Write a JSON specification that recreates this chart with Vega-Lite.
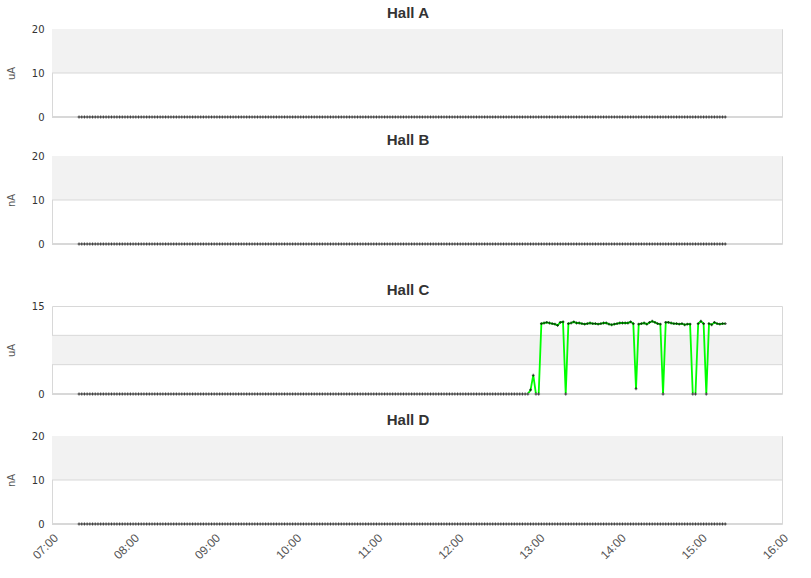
{
"$schema": "https://vega.github.io/schema/vega-lite/v6.json",
"padding": 5,
"datasets": {
"s": [
{"t":"2020-01-01T07:20","a":0,"b":0,"c":0,"d":0},{"t":"2020-01-01T07:22","a":0,"b":0,"c":0,"d":0},{"t":"2020-01-01T07:24","a":0,"b":0,"c":0,"d":0},{"t":"2020-01-01T07:26","a":0,"b":0,"c":0,"d":0},{"t":"2020-01-01T07:28","a":0,"b":0,"c":0,"d":0},{"t":"2020-01-01T07:30","a":0,"b":0,"c":0,"d":0},{"t":"2020-01-01T07:32","a":0,"b":0,"c":0,"d":0},{"t":"2020-01-01T07:34","a":0,"b":0,"c":0,"d":0},{"t":"2020-01-01T07:36","a":0,"b":0,"c":0,"d":0},{"t":"2020-01-01T07:38","a":0,"b":0,"c":0,"d":0},
{"t":"2020-01-01T07:40","a":0,"b":0,"c":0,"d":0},{"t":"2020-01-01T07:42","a":0,"b":0,"c":0,"d":0},{"t":"2020-01-01T07:44","a":0,"b":0,"c":0,"d":0},{"t":"2020-01-01T07:46","a":0,"b":0,"c":0,"d":0},{"t":"2020-01-01T07:48","a":0,"b":0,"c":0,"d":0},{"t":"2020-01-01T07:50","a":0,"b":0,"c":0,"d":0},{"t":"2020-01-01T07:52","a":0,"b":0,"c":0,"d":0},{"t":"2020-01-01T07:54","a":0,"b":0,"c":0,"d":0},{"t":"2020-01-01T07:56","a":0,"b":0,"c":0,"d":0},{"t":"2020-01-01T07:58","a":0,"b":0,"c":0,"d":0},
{"t":"2020-01-01T08:00","a":0,"b":0,"c":0,"d":0},{"t":"2020-01-01T08:02","a":0,"b":0,"c":0,"d":0},{"t":"2020-01-01T08:04","a":0,"b":0,"c":0,"d":0},{"t":"2020-01-01T08:06","a":0,"b":0,"c":0,"d":0},{"t":"2020-01-01T08:08","a":0,"b":0,"c":0,"d":0},{"t":"2020-01-01T08:10","a":0,"b":0,"c":0,"d":0},{"t":"2020-01-01T08:12","a":0,"b":0,"c":0,"d":0},{"t":"2020-01-01T08:14","a":0,"b":0,"c":0,"d":0},{"t":"2020-01-01T08:16","a":0,"b":0,"c":0,"d":0},{"t":"2020-01-01T08:18","a":0,"b":0,"c":0,"d":0},
{"t":"2020-01-01T08:20","a":0,"b":0,"c":0,"d":0},{"t":"2020-01-01T08:22","a":0,"b":0,"c":0,"d":0},{"t":"2020-01-01T08:24","a":0,"b":0,"c":0,"d":0},{"t":"2020-01-01T08:26","a":0,"b":0,"c":0,"d":0},{"t":"2020-01-01T08:28","a":0,"b":0,"c":0,"d":0},{"t":"2020-01-01T08:30","a":0,"b":0,"c":0,"d":0},{"t":"2020-01-01T08:32","a":0,"b":0,"c":0,"d":0},{"t":"2020-01-01T08:34","a":0,"b":0,"c":0,"d":0},{"t":"2020-01-01T08:36","a":0,"b":0,"c":0,"d":0},{"t":"2020-01-01T08:38","a":0,"b":0,"c":0,"d":0},
{"t":"2020-01-01T08:40","a":0,"b":0,"c":0,"d":0},{"t":"2020-01-01T08:42","a":0,"b":0,"c":0,"d":0},{"t":"2020-01-01T08:44","a":0,"b":0,"c":0,"d":0},{"t":"2020-01-01T08:46","a":0,"b":0,"c":0,"d":0},{"t":"2020-01-01T08:48","a":0,"b":0,"c":0,"d":0},{"t":"2020-01-01T08:50","a":0,"b":0,"c":0,"d":0},{"t":"2020-01-01T08:52","a":0,"b":0,"c":0,"d":0},{"t":"2020-01-01T08:54","a":0,"b":0,"c":0,"d":0},{"t":"2020-01-01T08:56","a":0,"b":0,"c":0,"d":0},{"t":"2020-01-01T08:58","a":0,"b":0,"c":0,"d":0},
{"t":"2020-01-01T09:00","a":0,"b":0,"c":0,"d":0},{"t":"2020-01-01T09:02","a":0,"b":0,"c":0,"d":0},{"t":"2020-01-01T09:04","a":0,"b":0,"c":0,"d":0},{"t":"2020-01-01T09:06","a":0,"b":0,"c":0,"d":0},{"t":"2020-01-01T09:08","a":0,"b":0,"c":0,"d":0},{"t":"2020-01-01T09:10","a":0,"b":0,"c":0,"d":0},{"t":"2020-01-01T09:12","a":0,"b":0,"c":0,"d":0},{"t":"2020-01-01T09:14","a":0,"b":0,"c":0,"d":0},{"t":"2020-01-01T09:16","a":0,"b":0,"c":0,"d":0},{"t":"2020-01-01T09:18","a":0,"b":0,"c":0,"d":0},
{"t":"2020-01-01T09:20","a":0,"b":0,"c":0,"d":0},{"t":"2020-01-01T09:22","a":0,"b":0,"c":0,"d":0},{"t":"2020-01-01T09:24","a":0,"b":0,"c":0,"d":0},{"t":"2020-01-01T09:26","a":0,"b":0,"c":0,"d":0},{"t":"2020-01-01T09:28","a":0,"b":0,"c":0,"d":0},{"t":"2020-01-01T09:30","a":0,"b":0,"c":0,"d":0},{"t":"2020-01-01T09:32","a":0,"b":0,"c":0,"d":0},{"t":"2020-01-01T09:34","a":0,"b":0,"c":0,"d":0},{"t":"2020-01-01T09:36","a":0,"b":0,"c":0,"d":0},{"t":"2020-01-01T09:38","a":0,"b":0,"c":0,"d":0},
{"t":"2020-01-01T09:40","a":0,"b":0,"c":0,"d":0},{"t":"2020-01-01T09:42","a":0,"b":0,"c":0,"d":0},{"t":"2020-01-01T09:44","a":0,"b":0,"c":0,"d":0},{"t":"2020-01-01T09:46","a":0,"b":0,"c":0,"d":0},{"t":"2020-01-01T09:48","a":0,"b":0,"c":0,"d":0},{"t":"2020-01-01T09:50","a":0,"b":0,"c":0,"d":0},{"t":"2020-01-01T09:52","a":0,"b":0,"c":0,"d":0},{"t":"2020-01-01T09:54","a":0,"b":0,"c":0,"d":0},{"t":"2020-01-01T09:56","a":0,"b":0,"c":0,"d":0},{"t":"2020-01-01T09:58","a":0,"b":0,"c":0,"d":0},
{"t":"2020-01-01T10:00","a":0,"b":0,"c":0,"d":0},{"t":"2020-01-01T10:02","a":0,"b":0,"c":0,"d":0},{"t":"2020-01-01T10:04","a":0,"b":0,"c":0,"d":0},{"t":"2020-01-01T10:06","a":0,"b":0,"c":0,"d":0},{"t":"2020-01-01T10:08","a":0,"b":0,"c":0,"d":0},{"t":"2020-01-01T10:10","a":0,"b":0,"c":0,"d":0},{"t":"2020-01-01T10:12","a":0,"b":0,"c":0,"d":0},{"t":"2020-01-01T10:14","a":0,"b":0,"c":0,"d":0},{"t":"2020-01-01T10:16","a":0,"b":0,"c":0,"d":0},{"t":"2020-01-01T10:18","a":0,"b":0,"c":0,"d":0},
{"t":"2020-01-01T10:20","a":0,"b":0,"c":0,"d":0},{"t":"2020-01-01T10:22","a":0,"b":0,"c":0,"d":0},{"t":"2020-01-01T10:24","a":0,"b":0,"c":0,"d":0},{"t":"2020-01-01T10:26","a":0,"b":0,"c":0,"d":0},{"t":"2020-01-01T10:28","a":0,"b":0,"c":0,"d":0},{"t":"2020-01-01T10:30","a":0,"b":0,"c":0,"d":0},{"t":"2020-01-01T10:32","a":0,"b":0,"c":0,"d":0},{"t":"2020-01-01T10:34","a":0,"b":0,"c":0,"d":0},{"t":"2020-01-01T10:36","a":0,"b":0,"c":0,"d":0},{"t":"2020-01-01T10:38","a":0,"b":0,"c":0,"d":0},
{"t":"2020-01-01T10:40","a":0,"b":0,"c":0,"d":0},{"t":"2020-01-01T10:42","a":0,"b":0,"c":0,"d":0},{"t":"2020-01-01T10:44","a":0,"b":0,"c":0,"d":0},{"t":"2020-01-01T10:46","a":0,"b":0,"c":0,"d":0},{"t":"2020-01-01T10:48","a":0,"b":0,"c":0,"d":0},{"t":"2020-01-01T10:50","a":0,"b":0,"c":0,"d":0},{"t":"2020-01-01T10:52","a":0,"b":0,"c":0,"d":0},{"t":"2020-01-01T10:54","a":0,"b":0,"c":0,"d":0},{"t":"2020-01-01T10:56","a":0,"b":0,"c":0,"d":0},{"t":"2020-01-01T10:58","a":0,"b":0,"c":0,"d":0},
{"t":"2020-01-01T11:00","a":0,"b":0,"c":0,"d":0},{"t":"2020-01-01T11:02","a":0,"b":0,"c":0,"d":0},{"t":"2020-01-01T11:04","a":0,"b":0,"c":0,"d":0},{"t":"2020-01-01T11:06","a":0,"b":0,"c":0,"d":0},{"t":"2020-01-01T11:08","a":0,"b":0,"c":0,"d":0},{"t":"2020-01-01T11:10","a":0,"b":0,"c":0,"d":0},{"t":"2020-01-01T11:12","a":0,"b":0,"c":0,"d":0},{"t":"2020-01-01T11:14","a":0,"b":0,"c":0,"d":0},{"t":"2020-01-01T11:16","a":0,"b":0,"c":0,"d":0},{"t":"2020-01-01T11:18","a":0,"b":0,"c":0,"d":0},
{"t":"2020-01-01T11:20","a":0,"b":0,"c":0,"d":0},{"t":"2020-01-01T11:22","a":0,"b":0,"c":0,"d":0},{"t":"2020-01-01T11:24","a":0,"b":0,"c":0,"d":0},{"t":"2020-01-01T11:26","a":0,"b":0,"c":0,"d":0},{"t":"2020-01-01T11:28","a":0,"b":0,"c":0,"d":0},{"t":"2020-01-01T11:30","a":0,"b":0,"c":0,"d":0},{"t":"2020-01-01T11:32","a":0,"b":0,"c":0,"d":0},{"t":"2020-01-01T11:34","a":0,"b":0,"c":0,"d":0},{"t":"2020-01-01T11:36","a":0,"b":0,"c":0,"d":0},{"t":"2020-01-01T11:38","a":0,"b":0,"c":0,"d":0},
{"t":"2020-01-01T11:40","a":0,"b":0,"c":0,"d":0},{"t":"2020-01-01T11:42","a":0,"b":0,"c":0,"d":0},{"t":"2020-01-01T11:44","a":0,"b":0,"c":0,"d":0},{"t":"2020-01-01T11:46","a":0,"b":0,"c":0,"d":0},{"t":"2020-01-01T11:48","a":0,"b":0,"c":0,"d":0},{"t":"2020-01-01T11:50","a":0,"b":0,"c":0,"d":0},{"t":"2020-01-01T11:52","a":0,"b":0,"c":0,"d":0},{"t":"2020-01-01T11:54","a":0,"b":0,"c":0,"d":0},{"t":"2020-01-01T11:56","a":0,"b":0,"c":0,"d":0},{"t":"2020-01-01T11:58","a":0,"b":0,"c":0,"d":0},
{"t":"2020-01-01T12:00","a":0,"b":0,"c":0,"d":0},{"t":"2020-01-01T12:02","a":0,"b":0,"c":0,"d":0},{"t":"2020-01-01T12:04","a":0,"b":0,"c":0,"d":0},{"t":"2020-01-01T12:06","a":0,"b":0,"c":0,"d":0},{"t":"2020-01-01T12:08","a":0,"b":0,"c":0,"d":0},{"t":"2020-01-01T12:10","a":0,"b":0,"c":0,"d":0},{"t":"2020-01-01T12:12","a":0,"b":0,"c":0,"d":0},{"t":"2020-01-01T12:14","a":0,"b":0,"c":0,"d":0},{"t":"2020-01-01T12:16","a":0,"b":0,"c":0,"d":0},{"t":"2020-01-01T12:18","a":0,"b":0,"c":0,"d":0},
{"t":"2020-01-01T12:20","a":0,"b":0,"c":0,"d":0},{"t":"2020-01-01T12:22","a":0,"b":0,"c":0,"d":0},{"t":"2020-01-01T12:24","a":0,"b":0,"c":0,"d":0},{"t":"2020-01-01T12:26","a":0,"b":0,"c":0,"d":0},{"t":"2020-01-01T12:28","a":0,"b":0,"c":0,"d":0},{"t":"2020-01-01T12:30","a":0,"b":0,"c":0,"d":0},{"t":"2020-01-01T12:32","a":0,"b":0,"c":0,"d":0},{"t":"2020-01-01T12:34","a":0,"b":0,"c":0,"d":0},{"t":"2020-01-01T12:36","a":0,"b":0,"c":0,"d":0},{"t":"2020-01-01T12:38","a":0,"b":0,"c":0,"d":0},
{"t":"2020-01-01T12:40","a":0,"b":0,"c":0,"d":0},{"t":"2020-01-01T12:42","a":0,"b":0,"c":0,"d":0},{"t":"2020-01-01T12:44","a":0,"b":0,"c":0,"d":0},{"t":"2020-01-01T12:46","a":0,"b":0,"c":0,"d":0},{"t":"2020-01-01T12:48","a":0,"b":0,"c":0,"d":0},{"t":"2020-01-01T12:50","a":0,"b":0,"c":0,"d":0},{"t":"2020-01-01T12:52","a":0,"b":0,"c":0,"d":0},{"t":"2020-01-01T12:54","a":0,"b":0,"c":0.7,"d":0},{"t":"2020-01-01T12:56","a":0,"b":0,"c":3.2,"d":0},{"t":"2020-01-01T12:58","a":0,"b":0,"c":0,"d":0},
{"t":"2020-01-01T13:00","a":0,"b":0,"c":0,"d":0},{"t":"2020-01-01T13:02","a":0,"b":0,"c":12.0,"d":0},{"t":"2020-01-01T13:04","a":0,"b":0,"c":12.1,"d":0},{"t":"2020-01-01T13:06","a":0,"b":0,"c":12.2,"d":0},{"t":"2020-01-01T13:08","a":0,"b":0,"c":12.1,"d":0},{"t":"2020-01-01T13:10","a":0,"b":0,"c":12.0,"d":0},{"t":"2020-01-01T13:12","a":0,"b":0,"c":11.9,"d":0},{"t":"2020-01-01T13:14","a":0,"b":0,"c":11.7,"d":0},{"t":"2020-01-01T13:16","a":0,"b":0,"c":12.2,"d":0},{"t":"2020-01-01T13:18","a":0,"b":0,"c":12.3,"d":0},
{"t":"2020-01-01T13:20","a":0,"b":0,"c":0,"d":0},{"t":"2020-01-01T13:22","a":0,"b":0,"c":12.0,"d":0},{"t":"2020-01-01T13:24","a":0,"b":0,"c":12.1,"d":0},{"t":"2020-01-01T13:26","a":0,"b":0,"c":12.3,"d":0},{"t":"2020-01-01T13:28","a":0,"b":0,"c":12.1,"d":0},{"t":"2020-01-01T13:30","a":0,"b":0,"c":12.1,"d":0},{"t":"2020-01-01T13:32","a":0,"b":0,"c":12.0,"d":0},{"t":"2020-01-01T13:34","a":0,"b":0,"c":11.9,"d":0},{"t":"2020-01-01T13:36","a":0,"b":0,"c":12.0,"d":0},{"t":"2020-01-01T13:38","a":0,"b":0,"c":12.1,"d":0},
{"t":"2020-01-01T13:40","a":0,"b":0,"c":12.0,"d":0},{"t":"2020-01-01T13:42","a":0,"b":0,"c":12.0,"d":0},{"t":"2020-01-01T13:44","a":0,"b":0,"c":11.9,"d":0},{"t":"2020-01-01T13:46","a":0,"b":0,"c":12.0,"d":0},{"t":"2020-01-01T13:48","a":0,"b":0,"c":12.1,"d":0},{"t":"2020-01-01T13:50","a":0,"b":0,"c":12.1,"d":0},{"t":"2020-01-01T13:52","a":0,"b":0,"c":11.9,"d":0},{"t":"2020-01-01T13:54","a":0,"b":0,"c":11.8,"d":0},{"t":"2020-01-01T13:56","a":0,"b":0,"c":11.9,"d":0},{"t":"2020-01-01T13:58","a":0,"b":0,"c":12.0,"d":0},
{"t":"2020-01-01T14:00","a":0,"b":0,"c":12.1,"d":0},{"t":"2020-01-01T14:02","a":0,"b":0,"c":12.1,"d":0},{"t":"2020-01-01T14:04","a":0,"b":0,"c":12.1,"d":0},{"t":"2020-01-01T14:06","a":0,"b":0,"c":12.1,"d":0},{"t":"2020-01-01T14:08","a":0,"b":0,"c":12.3,"d":0},{"t":"2020-01-01T14:10","a":0,"b":0,"c":12.0,"d":0},{"t":"2020-01-01T14:12","a":0,"b":0,"c":0.9,"d":0},{"t":"2020-01-01T14:14","a":0,"b":0,"c":11.9,"d":0},{"t":"2020-01-01T14:16","a":0,"b":0,"c":12.0,"d":0},{"t":"2020-01-01T14:18","a":0,"b":0,"c":12.1,"d":0},
{"t":"2020-01-01T14:20","a":0,"b":0,"c":11.9,"d":0},{"t":"2020-01-01T14:22","a":0,"b":0,"c":12.2,"d":0},{"t":"2020-01-01T14:24","a":0,"b":0,"c":12.4,"d":0},{"t":"2020-01-01T14:26","a":0,"b":0,"c":12.2,"d":0},{"t":"2020-01-01T14:28","a":0,"b":0,"c":12.0,"d":0},{"t":"2020-01-01T14:30","a":0,"b":0,"c":11.9,"d":0},{"t":"2020-01-01T14:32","a":0,"b":0,"c":0,"d":0},{"t":"2020-01-01T14:34","a":0,"b":0,"c":12.2,"d":0},{"t":"2020-01-01T14:36","a":0,"b":0,"c":12.2,"d":0},{"t":"2020-01-01T14:38","a":0,"b":0,"c":12.1,"d":0},
{"t":"2020-01-01T14:40","a":0,"b":0,"c":12.0,"d":0},{"t":"2020-01-01T14:42","a":0,"b":0,"c":12.0,"d":0},{"t":"2020-01-01T14:44","a":0,"b":0,"c":11.9,"d":0},{"t":"2020-01-01T14:46","a":0,"b":0,"c":12.0,"d":0},{"t":"2020-01-01T14:48","a":0,"b":0,"c":11.8,"d":0},{"t":"2020-01-01T14:50","a":0,"b":0,"c":11.9,"d":0},{"t":"2020-01-01T14:52","a":0,"b":0,"c":11.9,"d":0},{"t":"2020-01-01T14:54","a":0,"b":0,"c":0,"d":0},{"t":"2020-01-01T14:56","a":0,"b":0,"c":0,"d":0},{"t":"2020-01-01T14:58","a":0,"b":0,"c":12.0,"d":0},
{"t":"2020-01-01T15:00","a":0,"b":0,"c":12.4,"d":0},{"t":"2020-01-01T15:02","a":0,"b":0,"c":12.0,"d":0},{"t":"2020-01-01T15:04","a":0,"b":0,"c":0,"d":0},{"t":"2020-01-01T15:06","a":0,"b":0,"c":12.0,"d":0},{"t":"2020-01-01T15:08","a":0,"b":0,"c":11.8,"d":0},{"t":"2020-01-01T15:10","a":0,"b":0,"c":12.2,"d":0},{"t":"2020-01-01T15:12","a":0,"b":0,"c":12.0,"d":0},{"t":"2020-01-01T15:14","a":0,"b":0,"c":11.9,"d":0},{"t":"2020-01-01T15:16","a":0,"b":0,"c":12.0,"d":0},{"t":"2020-01-01T15:18","a":0,"b":0,"c":12.0,"d":0}
],
"band20": [{"lo": 10, "hi": 20}],
"band15": [{"lo": 5, "hi": 10}],
"grid20": [{"g": 10}],
"grid15": [{"g": 5}, {"g": 10}],
"zero": [{"z": 0}]
},
"spacing": 32,
"vconcat": [
 {"spacing": 9, "vconcat": [
  {"title": "Hall A", "width": 730, "height": 88, "layer": [
   {"data": {"name": "band20"}, "mark": {"type": "rect", "color": "#f2f2f2"}, "encoding": {"y": {"field": "lo", "type": "quantitative", "scale": {"domain": [0, 20], "nice": false}, "axis": {"values": [0, 10, 20], "title": "uA", "grid": false, "labelOverlap": false}}, "y2": {"field": "hi"}}},
   {"data": {"name": "grid20"}, "mark": {"type": "rule", "color": "#d8d8d8", "strokeWidth": 1}, "encoding": {"y": {"field": "g", "type": "quantitative"}}},
   {"data": {"name": "s"}, "mark": {"type": "line", "color": "#00ff00", "strokeWidth": 1.8}, "encoding": {
     "x": {"field": "t", "type": "temporal", "scale": {"domain": [{"year": 2020, "month": 1, "date": 1, "hours": 7}, {"year": 2020, "month": 1, "date": 1, "hours": 16}]}, "axis": null},
     "y": {"field": "a", "type": "quantitative"}}},
   {"data": {"name": "zero"}, "mark": {"type": "rule", "color": "#d8d8d8", "strokeWidth": 2}, "encoding": {"y": {"field": "z", "type": "quantitative"}}},
   {"data": {"name": "s"}, "mark": {"type": "point", "shape": "cross", "filled": true, "color": "black", "size": 8}, "encoding": {
     "x": {"field": "t", "type": "temporal"}, "y": {"field": "a", "type": "quantitative"}}}
  ]},
  {"title": "Hall B", "width": 730, "height": 88, "layer": [
   {"data": {"name": "band20"}, "mark": {"type": "rect", "color": "#f2f2f2"}, "encoding": {"y": {"field": "lo", "type": "quantitative", "scale": {"domain": [0, 20], "nice": false}, "axis": {"values": [0, 10, 20], "title": "nA", "grid": false, "labelOverlap": false}}, "y2": {"field": "hi"}}},
   {"data": {"name": "grid20"}, "mark": {"type": "rule", "color": "#d8d8d8", "strokeWidth": 1}, "encoding": {"y": {"field": "g", "type": "quantitative"}}},
   {"data": {"name": "s"}, "mark": {"type": "line", "color": "#00ff00", "strokeWidth": 1.8}, "encoding": {
     "x": {"field": "t", "type": "temporal", "scale": {"domain": [{"year": 2020, "month": 1, "date": 1, "hours": 7}, {"year": 2020, "month": 1, "date": 1, "hours": 16}]}, "axis": null},
     "y": {"field": "b", "type": "quantitative"}}},
   {"data": {"name": "zero"}, "mark": {"type": "rule", "color": "#d8d8d8", "strokeWidth": 2}, "encoding": {"y": {"field": "z", "type": "quantitative"}}},
   {"data": {"name": "s"}, "mark": {"type": "point", "shape": "cross", "filled": true, "color": "black", "size": 8}, "encoding": {
     "x": {"field": "t", "type": "temporal"}, "y": {"field": "b", "type": "quantitative"}}}
  ]}
 ]},
 {"spacing": 12, "vconcat": [
  {"title": "Hall C", "width": 730, "height": 88, "layer": [
   {"data": {"name": "band15"}, "mark": {"type": "rect", "color": "#f2f2f2"}, "encoding": {"y": {"field": "lo", "type": "quantitative", "scale": {"domain": [0, 15], "nice": false}, "axis": {"values": [0, 5, 10, 15], "title": "uA", "grid": false, "labelOverlap": false}}, "y2": {"field": "hi"}}},
   {"data": {"name": "grid15"}, "mark": {"type": "rule", "color": "#d8d8d8", "strokeWidth": 1}, "encoding": {"y": {"field": "g", "type": "quantitative"}}},
   {"data": {"name": "s"}, "mark": {"type": "line", "color": "#00ff00", "strokeWidth": 1.8}, "encoding": {
     "x": {"field": "t", "type": "temporal", "scale": {"domain": [{"year": 2020, "month": 1, "date": 1, "hours": 7}, {"year": 2020, "month": 1, "date": 1, "hours": 16}]}, "axis": null},
     "y": {"field": "c", "type": "quantitative"}}},
   {"data": {"name": "zero"}, "mark": {"type": "rule", "color": "#d8d8d8", "strokeWidth": 2}, "encoding": {"y": {"field": "z", "type": "quantitative"}}},
   {"data": {"name": "s"}, "mark": {"type": "point", "shape": "cross", "filled": true, "color": "black", "size": 8}, "encoding": {
     "x": {"field": "t", "type": "temporal"}, "y": {"field": "c", "type": "quantitative"}}}
  ]},
  {"title": "Hall D", "width": 730, "height": 88, "layer": [
   {"data": {"name": "band20"}, "mark": {"type": "rect", "color": "#f2f2f2"}, "encoding": {"y": {"field": "lo", "type": "quantitative", "scale": {"domain": [0, 20], "nice": false}, "axis": {"values": [0, 10, 20], "title": "nA", "grid": false, "labelOverlap": false}}, "y2": {"field": "hi"}}},
   {"data": {"name": "grid20"}, "mark": {"type": "rule", "color": "#d8d8d8", "strokeWidth": 1}, "encoding": {"y": {"field": "g", "type": "quantitative"}}},
   {"data": {"name": "s"}, "mark": {"type": "line", "color": "#00ff00", "strokeWidth": 1.8}, "encoding": {
     "x": {"field": "t", "type": "temporal", "scale": {"domain": [{"year": 2020, "month": 1, "date": 1, "hours": 7}, {"year": 2020, "month": 1, "date": 1, "hours": 16}]},
       "axis": {"format": "%H:%M", "values": [
         {"year": 2020, "month": 1, "date": 1, "hours": 7}, {"year": 2020, "month": 1, "date": 1, "hours": 8}, {"year": 2020, "month": 1, "date": 1, "hours": 9},
         {"year": 2020, "month": 1, "date": 1, "hours": 10}, {"year": 2020, "month": 1, "date": 1, "hours": 11}, {"year": 2020, "month": 1, "date": 1, "hours": 12},
         {"year": 2020, "month": 1, "date": 1, "hours": 13}, {"year": 2020, "month": 1, "date": 1, "hours": 14}, {"year": 2020, "month": 1, "date": 1, "hours": 15},
         {"year": 2020, "month": 1, "date": 1, "hours": 16}],
       "labelAngle": -45, "labelFont": "Liberation Sans", "labelFontSize": 12, "labelColor": "#555", "ticks": false, "domain": false, "grid": false, "labelPadding": 8, "title": null}},
     "y": {"field": "d", "type": "quantitative"}}},
   {"data": {"name": "zero"}, "mark": {"type": "rule", "color": "#d8d8d8", "strokeWidth": 2}, "encoding": {"y": {"field": "z", "type": "quantitative"}}},
   {"data": {"name": "s"}, "mark": {"type": "point", "shape": "cross", "filled": true, "color": "black", "size": 8}, "encoding": {
     "x": {"field": "t", "type": "temporal"}, "y": {"field": "d", "type": "quantitative"}}}
  ]}
 ]}
],
"config": {
 "view": {"stroke": "#d8d8d8"},
 "axisY": {"ticks": false, "domain": false, "labelPadding": 8, "labelFont": "DejaVu Sans", "labelFontSize": 10, "labelColor": "#333", "titleFont": "DejaVu Sans", "titleFontSize": 10, "titleFontWeight": "normal", "titleColor": "#555", "titlePadding": 3, "minExtent": 33},
 "title": {"font": "Liberation Sans", "fontSize": 15, "fontWeight": "bold", "color": "#333", "frame": "group", "offset": 3, "dx": -9}
}
}
